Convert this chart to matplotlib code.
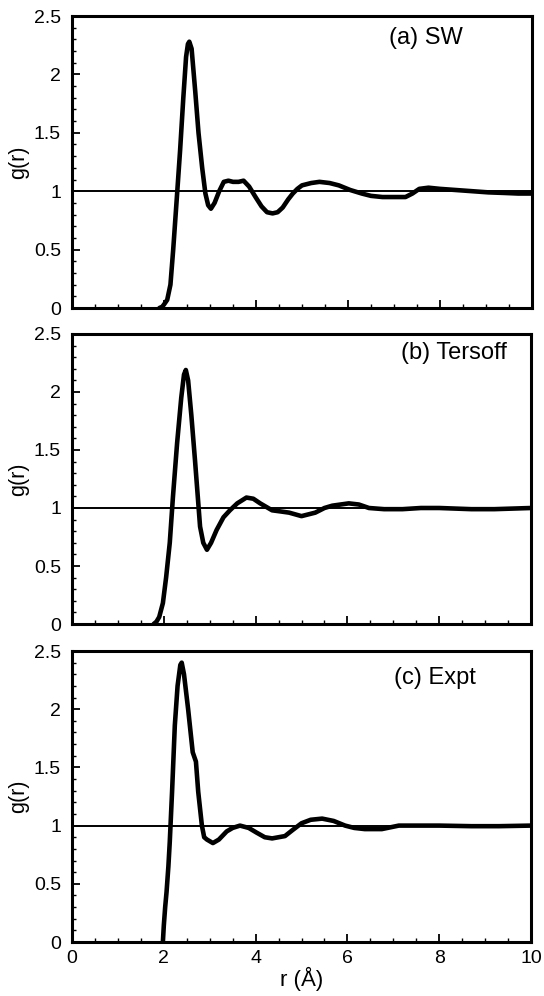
import numpy as np
import matplotlib.pyplot as plt
from matplotlib.ticker import MultipleLocator

plt.rcParams['font.family'] = ['Liberation Sans', 'DejaVu Sans']

# (a) SW
r_sw = [1.9, 1.96, 2.0, 2.07, 2.14, 2.2, 2.28, 2.35, 2.42, 2.48, 2.52, 2.55, 2.6, 2.68, 2.75,
        2.83, 2.9, 2.96, 3.02, 3.1, 3.2, 3.3, 3.4, 3.5, 3.62, 3.73, 3.85, 3.99, 4.12, 4.24,
        4.36, 4.47, 4.58, 4.7, 4.8, 4.9, 5.0, 5.2, 5.38, 5.6, 5.8, 6.05, 6.3, 6.5, 6.75,
        7.0, 7.25, 7.4, 7.55, 7.75, 8.0, 8.35, 8.7, 9.05, 9.4, 9.7, 10.0]
g_sw = [0.0, 0.01, 0.03, 0.07, 0.2, 0.5, 0.95, 1.35, 1.8, 2.15, 2.26, 2.28, 2.22, 1.85, 1.5,
        1.2, 0.98, 0.88, 0.85, 0.9, 1.0, 1.08, 1.09, 1.08, 1.08, 1.09, 1.04, 0.95, 0.87, 0.82,
        0.81, 0.82, 0.86, 0.93, 0.98, 1.02, 1.05, 1.07, 1.08, 1.07, 1.05, 1.01, 0.98, 0.96, 0.95,
        0.95, 0.95, 0.98, 1.02, 1.03, 1.02, 1.01, 1.0, 0.99, 0.985, 0.98, 0.98]

# (b) Tersoff
r_ts = [1.78, 1.84, 1.9, 1.98, 2.05, 2.13, 2.2, 2.29, 2.38, 2.44, 2.48, 2.53, 2.6,
        2.68, 2.74, 2.79, 2.86, 2.94, 3.03, 3.15, 3.3, 3.44, 3.6, 3.8, 3.95, 4.1, 4.36,
        4.55, 4.73, 5.0, 5.3, 5.5, 5.67, 6.03, 6.25, 6.47, 6.8, 7.2, 7.6, 8.0, 8.35, 8.7,
        9.2, 9.6, 10.0]
g_ts = [0.0, 0.02, 0.06, 0.18, 0.4, 0.7, 1.1, 1.56, 1.95, 2.15, 2.19, 2.1, 1.8,
        1.41, 1.1, 0.84, 0.7, 0.64, 0.7, 0.81, 0.92, 0.98, 1.04, 1.09, 1.08, 1.04, 0.98,
        0.97, 0.96, 0.93, 0.96, 1.0, 1.02, 1.04, 1.03, 1.0, 0.99, 0.99, 1.0, 1.0, 0.995, 0.99,
        0.99, 0.995, 1.0]

# (c) Expt
r_ex = [1.98, 2.0, 2.03, 2.06, 2.1, 2.13, 2.18, 2.24, 2.3, 2.36, 2.39, 2.44, 2.53, 2.63,
        2.7, 2.75, 2.83, 2.88, 2.94, 3.07, 3.2, 3.37, 3.5, 3.66, 3.85, 4.02, 4.2, 4.36,
        4.64, 4.8, 5.0, 5.2, 5.45, 5.7, 5.95, 6.15, 6.38, 6.75, 7.12, 7.6, 8.0, 8.7, 9.3, 10.0]
g_ex = [0.0, 0.14, 0.3, 0.43, 0.65, 0.86, 1.29, 1.86, 2.2, 2.38, 2.4, 2.3, 2.0, 1.63,
        1.55, 1.29, 1.0, 0.9, 0.88, 0.85, 0.88, 0.95, 0.98, 1.0, 0.98, 0.94, 0.9, 0.89,
        0.91, 0.96, 1.02, 1.05, 1.06, 1.04, 1.0, 0.98, 0.97, 0.97, 1.0, 1.0, 1.0, 0.995, 0.995, 1.0]

panels = [(r_sw, g_sw, "(a) SW", 0.85, 0.925),
          (r_ts, g_ts, "(b) Tersoff", 0.948, 0.935),
          (r_ex, g_ex, "(c) Expt", 0.88, 0.907)]

# axes boxes in pixels: left, top, right, bottom
boxes = [(72, 16, 532, 308), (72, 334, 531, 624), (72, 651, 531, 942)]

W, H = 544, 996
fig = plt.figure(figsize=(W / 100, H / 100), dpi=100)

for (r, g, label, tx, ty), (l, t, rr, b) in zip(panels, boxes):
    ax = fig.add_axes([l / W, 1 - b / H, (rr - l) / W, (b - t) / H])
    ax.axhline(1.0, color='black', lw=1.4)
    ax.plot(r, g, color='black', lw=3.3, solid_joinstyle='round', solid_capstyle='round')
    ax.set_xlim(0, 10)
    ax.set_ylim(0, 2.5)
    ax.xaxis.set_major_locator(MultipleLocator(2))
    ax.xaxis.set_minor_locator(MultipleLocator(0.5))
    ax.yaxis.set_major_locator(MultipleLocator(0.5))
    ax.yaxis.set_minor_locator(MultipleLocator(0.1))
    ax.set_yticks([0, 0.5, 1, 1.5, 2, 2.5])
    ax.set_yticklabels(["0", "0.5", "1", "1.5", "2", "2.5"])
    ax.tick_params(which='both', direction='in', top=False, right=False, labelsize=14)
    ax.tick_params(which='major', length=6, width=1.3)
    ax.tick_params(which='minor', length=3, width=1.0)
    ax.tick_params(axis='y', pad=8)
    ax.tick_params(axis='x', pad=6)
    for s in ax.spines.values():
        s.set_linewidth(2.2)
    ax.set_ylabel("g(r)", fontsize=15.5, labelpad=3)
    ax.text(tx, ty, label, transform=ax.transAxes, ha='right', va='center', fontsize=17)
    if label.startswith("(c)"):
        ax.set_xticks([0, 2, 4, 6, 8, 10])
        ax.set_xlabel("r (Å)", fontsize=16, labelpad=0)
    else:
        ax.tick_params(axis='x', labelbottom=False)

fig.savefig("out.png", dpi=100)
